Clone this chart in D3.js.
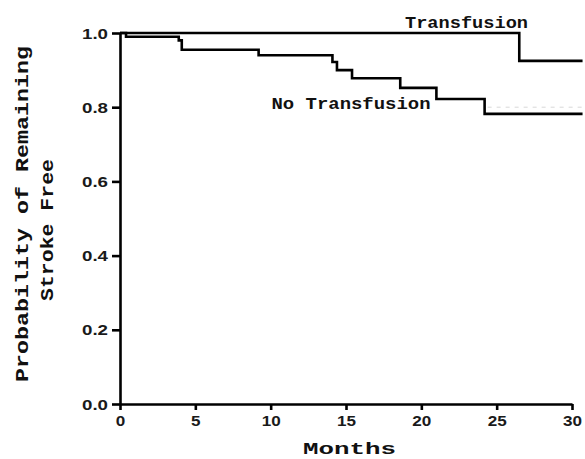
<!DOCTYPE html>
<html>
<head>
<meta charset="utf-8">
<script src="https://cdn.jsdelivr.net/npm/d3@7"></script>
<style>
  html, body { margin: 0; padding: 0; background: #fff; }
  svg { display: block; }
</style>
</head>
<body>
<svg id="chart" width="585" height="459"></svg>
<script>
// ---- data ----
const xTicks = [0, 5, 10, 15, 20, 25, 30];
const yTicks = [0.0, 0.2, 0.4, 0.6, 0.8, 1.0];
const transfusionMonths = [0, 26.5, 30.7];
const transfusionSurv   = [1.0, 0.925, 0.925];
const noTransMonths = [0, 0.4, 3.9, 4.1, 9.2, 14.1, 14.4, 15.4, 18.6, 21.0, 24.2, 30.7];
const noTransSurv   = [1.0, 0.99, 0.98, 0.955, 0.94, 0.922, 0.90, 0.878, 0.852, 0.822, 0.782, 0.782];
const refMonths = [24.4, 30.7];
const refSurv = [0.8, 0.8];
const seriesLabels = ["Transfusion", "No Transfusion"];
const xTitle = "Months";
const yTitleLines = ["Probability of Remaining", "Stroke Free"];

// ---- chart ----
const svg = d3.select("#chart");
const x = d3.scaleLinear().domain([0, 30]).range([120, 572]);
const y = d3.scaleLinear().domain([0, 1]).range([404, 33]);

const tickFont = "'Liberation Sans', Arial, sans-serif";
const monoFont = "'Liberation Mono', 'Courier New', monospace";

// faint reference dashes
svg.append("path")
  .attr("d", d3.line().x(d => x(d[0])).y(d => y(d[1]))(refMonths.map((m, i) => [m, refSurv[i]])))
  .attr("fill", "none").attr("stroke", "#d8d8d8").attr("stroke-width", 1)
  .attr("stroke-dasharray", "4,5");

// axes
const xAxis = d3.axisBottom(x).tickValues(xTicks).tickFormat(d3.format("d")).tickSize(6).tickSizeOuter(0);
const gx = svg.append("g").attr("transform", `translate(0,${y(0)})`).call(xAxis);
const yAxis = d3.axisLeft(y).tickValues(yTicks).tickFormat(d3.format(".1f")).tickSize(8).tickSizeOuter(0);
const gy = svg.append("g").attr("transform", `translate(${x(0)},0)`).call(yAxis);

[gx, gy].forEach(g => {
  g.attr("font-size", null).attr("font-family", null);
  g.select(".domain").attr("stroke", "#000").attr("stroke-width", 2.6);
  g.selectAll(".tick line").attr("stroke", "#000").attr("stroke-width", 2.6);
  g.selectAll(".tick text").attr("fill", "#1a1a1a")
    .style("font-family", tickFont).style("font-weight", "bold").style("font-size", "14px")
    .attr("lengthAdjust", "spacingAndGlyphs");
});
gx.selectAll(".tick text").attr("y", 9).attr("dy", "0.95em")
  .attr("textLength", d => String(d).length * 9.5);
gy.selectAll(".tick text").attr("x", -12).attr("dy", "0.36em")
  .attr("textLength", 26);

// step curves
const step = d3.line().x(d => x(d[0])).y(d => y(d[1])).curve(d3.curveStepAfter);
svg.append("path")
  .attr("d", step(transfusionMonths.map((m, i) => [m, transfusionSurv[i]])))
  .attr("fill", "none").attr("stroke", "#000").attr("stroke-width", 2.6);
svg.append("path")
  .attr("d", step(noTransMonths.map((m, i) => [m, noTransSurv[i]])))
  .attr("fill", "none").attr("stroke", "#000").attr("stroke-width", 2.6);

// series labels
svg.append("text").text(seriesLabels[0])
  .attr("x", 405).attr("y", 27.5)
  .attr("font-family", monoFont).attr("font-weight", "bold").attr("font-size", "17px")
  .attr("textLength", 123).attr("lengthAdjust", "spacingAndGlyphs").attr("fill", "#111");
svg.append("text").text(seriesLabels[1])
  .attr("x", 271.5).attr("y", 108.5)
  .attr("font-family", monoFont).attr("font-weight", "bold").attr("font-size", "17px")
  .attr("textLength", 159).attr("lengthAdjust", "spacingAndGlyphs").attr("fill", "#111");

// x title
svg.append("text").text(xTitle)
  .attr("x", 303).attr("y", 454)
  .attr("font-family", monoFont).attr("font-weight", "bold").attr("font-size", "17px")
  .attr("textLength", 93).attr("lengthAdjust", "spacingAndGlyphs").attr("fill", "#111");

// y title
const yt = svg.append("text")
  .attr("transform", "rotate(-90)")
  .attr("font-family", monoFont).attr("font-weight", "bold").attr("font-size", "18px")
  .attr("fill", "#111").attr("text-anchor", "middle").attr("lengthAdjust", "spacingAndGlyphs");
yt.append("tspan").text(yTitleLines[0]).attr("x", -214).attr("y", 28)
  .attr("textLength", 336).attr("lengthAdjust", "spacingAndGlyphs");
yt.append("tspan").text(yTitleLines[1]).attr("x", -230).attr("y", 53)
  .attr("textLength", 142).attr("lengthAdjust", "spacingAndGlyphs");
</script>
</body>
</html>
